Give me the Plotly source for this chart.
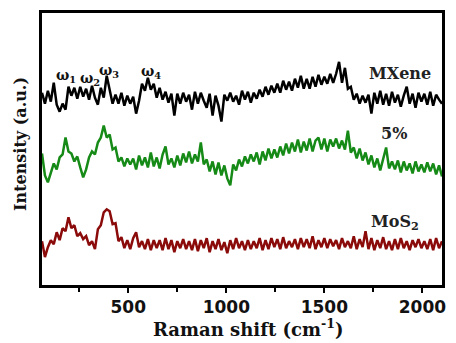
import plotly.graph_objects as go

# Raman shift grid (cm^-1)
raman_shift = list(range(60, 2101, 15))

# Intensity (a.u., offset stacked)
mxene = [193, 182, 195, 184, 203, 181, 174, 182, 176, 199,
         190, 198, 187, 199, 189, 197, 186, 200, 188, 181,
         198, 188, 210, 194, 182, 191, 182, 193, 180, 190,
         182, 189, 172, 185, 202, 195, 208, 196, 202, 188,
         198, 186, 194, 183, 192, 170, 192, 182, 193, 184,
         191, 176, 194, 182, 193, 185, 178, 192, 170, 190,
         180, 164, 191, 185, 193, 184, 190, 181, 195, 186,
         194, 183, 193, 187, 196, 189, 199, 191, 200, 193,
         202, 193, 205, 196, 204, 195, 207, 198, 210, 197,
         207, 197, 209, 199, 211, 201, 209, 202, 212, 203,
         212, 224, 203, 218, 197, 199, 186, 192, 182, 190,
         183, 191, 172, 193, 182, 195, 181, 192, 180, 194,
         183, 191, 179, 190, 199, 182, 192, 178, 193, 184,
         192, 181, 194, 180, 191, 186, 182]

composite_5 = [132, 110, 103, 112, 122, 116, 128, 131, 148, 134,
               132, 124, 129, 118, 108, 116, 128, 134, 131, 143,
               148, 160, 148, 151, 136, 138, 124, 128, 119, 127,
               121, 127, 116, 130, 120, 128, 118, 133, 119, 128,
               117, 131, 139, 121, 127, 118, 130, 120, 132, 123,
               134, 122, 131, 124, 143, 121, 126, 114, 124, 111,
               123, 110, 120, 107, 100, 121, 115, 126, 119, 129,
               122, 131, 124, 133, 121, 134, 125, 137, 127, 136,
               128, 139, 130, 142, 132, 143, 134, 146, 133, 144,
               135, 147, 134, 145, 148, 136, 147, 134, 146, 139,
               147, 137, 145, 136, 155, 133, 138, 127, 137, 125,
               133, 121, 130, 118, 127, 115, 126, 138, 117, 124,
               116, 125, 113, 124, 115, 122, 112, 124, 114, 121,
               113, 123, 114, 122, 111, 120, 109]

mos2 = [44, 28, 38, 45, 41, 53, 45, 57, 54, 68,
        57, 60, 49, 52, 46, 49, 40, 44, 36, 56,
        60, 73, 76, 74, 61, 62, 44, 48, 37, 45,
        36, 47, 53, 38, 44, 36, 46, 35, 45, 37,
        45, 35, 47, 36, 45, 33, 44, 37, 46, 36,
        44, 35, 46, 34, 45, 37, 47, 33, 44, 36,
        46, 35, 43, 32, 45, 36, 47, 37, 44, 35,
        45, 36, 44, 37, 47, 35, 45, 36, 47, 38,
        46, 36, 48, 37, 44, 38, 46, 36, 47, 38,
        46, 37, 49, 36, 45, 38, 47, 37, 46, 39,
        45, 36, 47, 38, 44, 37, 49, 36, 46, 38,
        54, 36, 47, 35, 45, 37, 48, 36, 44, 35,
        46, 36, 47, 37, 44, 35, 45, 38, 46, 37,
        44, 36, 46, 35, 47, 37, 44]

series_names = ["MXene", "5%", "MoS<sub>2</sub>"]
series_colors = ["#000000", "#168a16", "#8b0a0a"]
series_values = [mxene, composite_5, mos2]
label_x = [1884, 1853, 1859]
label_y = [212, 152, 63]

peak_labels = ["ω<sub>1</sub>", "ω<sub>2</sub>", "ω<sub>3</sub>", "ω<sub>4</sub>"]
peak_x = [182, 303, 404, 616]
peak_y = [210, 207, 215, 214]

x_ticks = [500, 1000, 1500, 2000]

fig = go.Figure()
for name, col, vals in zip(series_names, series_colors, series_values):
    fig.add_trace(go.Scatter(x=raman_shift, y=vals, mode="lines", name=name,
                             line=dict(color=col, width=2.5), showlegend=False))

serif = "DejaVu Serif"
annotations = []
for name, lx, ly in zip(series_names, label_x, label_y):
    annotations.append(dict(x=lx, y=ly, xref="x", yref="y", text=name, showarrow=False,
                            font=dict(family=serif, size=16, color="#222", weight="bold")))
for t, px, py in zip(peak_labels, peak_x, peak_y):
    annotations.append(dict(x=px, y=py, xref="x", yref="y", text=t, showarrow=False,
                            font=dict(family=serif, size=14, color="#111", weight="bold")))
annotations.append(dict(x=0.515, y=-0.21, xref="paper", yref="paper",
                        text="Raman shift (cm<sup>-1</sup>)", showarrow=False,
                        xanchor="center", yanchor="bottom",
                        font=dict(family=serif, size=18, color="#111", weight="bold")))
annotations.append(dict(x=-0.054, y=0.52, xref="paper", yref="paper",
                        text="Intensity (a.u.)", showarrow=False, textangle=-90,
                        xanchor="center", yanchor="middle",
                        font=dict(family=serif, size=16, color="#111", weight="bold")))

fig.update_layout(
    width=456, height=343,
    margin=dict(l=42, r=10, t=12, b=58),
    paper_bgcolor="white", plot_bgcolor="white",
    annotations=annotations,
    xaxis=dict(range=[60, 2100], tickvals=x_ticks, ticks="outside", ticklen=5, tickwidth=2,
               tickcolor="black", showline=True, linecolor="black", linewidth=2.5,
               mirror=True, showgrid=False, zeroline=False,
               tickfont=dict(family="DejaVu Sans", size=17, color="#111", weight="bold"),
               minor=dict(tickvals=[250, 750, 1250, 1750], ticks="outside", ticklen=4,
                          tickwidth=2, tickcolor="black")),
    yaxis=dict(range=[0, 273], showticklabels=False, ticks="", showline=True,
               linecolor="black", linewidth=2.5, mirror=True, showgrid=False,
               zeroline=False),
)

fig.write_html("out.html")
